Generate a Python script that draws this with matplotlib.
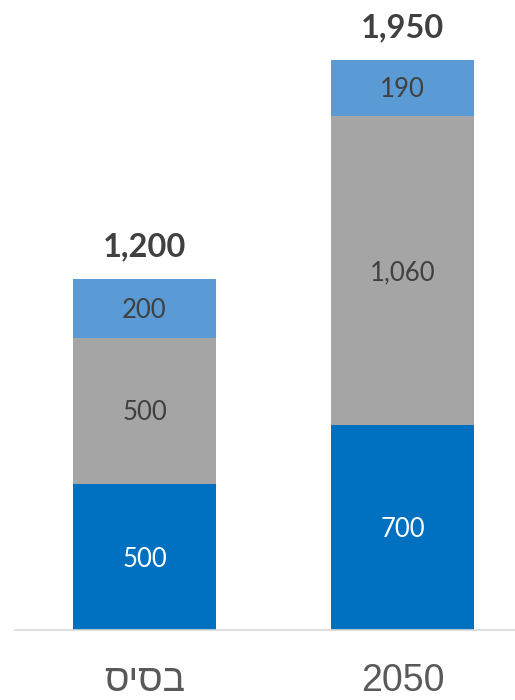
#!/usr/bin/env python3

import numpy as np
import matplotlib
matplotlib.use('Agg')
import matplotlib.pyplot as plt

categories = ["בסיס", "2050"]
bottom_vals = [500, 700]
middle_vals = [500, 1060]
top_vals = [200, 190]
totals = [1200, 1950]

colours = ['#0070C0', '#A5A5A5', '#5B9BD5']
label_colours = ['white', '#404040', '#404040']

fig = plt.figure(figsize=(5.15, 7.0), dpi=100)
ax = fig.add_axes([15 / 515, 0.1, 500 / 515, 570 / 700])

x = np.arange(len(categories))
width = 0.554

base = np.zeros(len(categories))
for vals, col, lcol in zip([bottom_vals, middle_vals, top_vals], colours, label_colours):
    bars = ax.bar(x, vals, width, bottom=base, color=col, edgecolor='none')
    for b, v in zip(bars, vals):
        ax.annotate(f"{v:,}", (b.get_x() + b.get_width() / 2, b.get_y() + b.get_height() / 2),
                    xytext=(0, -1.5), textcoords='offset points',
                    ha='center', va='center', color=lcol,
                    fontsize=18.5, family=['Lato', 'DejaVu Sans'])
    base = base + np.array(vals)

for xi, t in zip(x, totals):
    ax.annotate(f"{t:,}", (xi, t), xytext=(0, 23), textcoords='offset points',
                ha='center', va='center', fontsize=23.5, fontweight='bold',
                color='#404040', family=['Lato', 'DejaVu Sans'],
                annotation_clip=False)

ax.set_xlim(-0.502, 1.436)
ax.set_ylim(0, 1950)

# matplotlib has no bidi support, so Hebrew is passed in visual order
ax.set_xticks(x)
ax.set_xticklabels([c[::-1] if not c.isdigit() else c for c in categories],
                   fontsize=27, color='#595959',
                   family=['Liberation Sans', 'DejaVu Sans'])
ax.tick_params(axis='x', length=0, pad=24)
ax.set_yticks([])

for s in ['top', 'right', 'left']:
    ax.spines[s].set_visible(False)
ax.spines['bottom'].set_color('#D9D9D9')
ax.spines['bottom'].set_linewidth(1.2)

plt.savefig('out.png', dpi=100)
